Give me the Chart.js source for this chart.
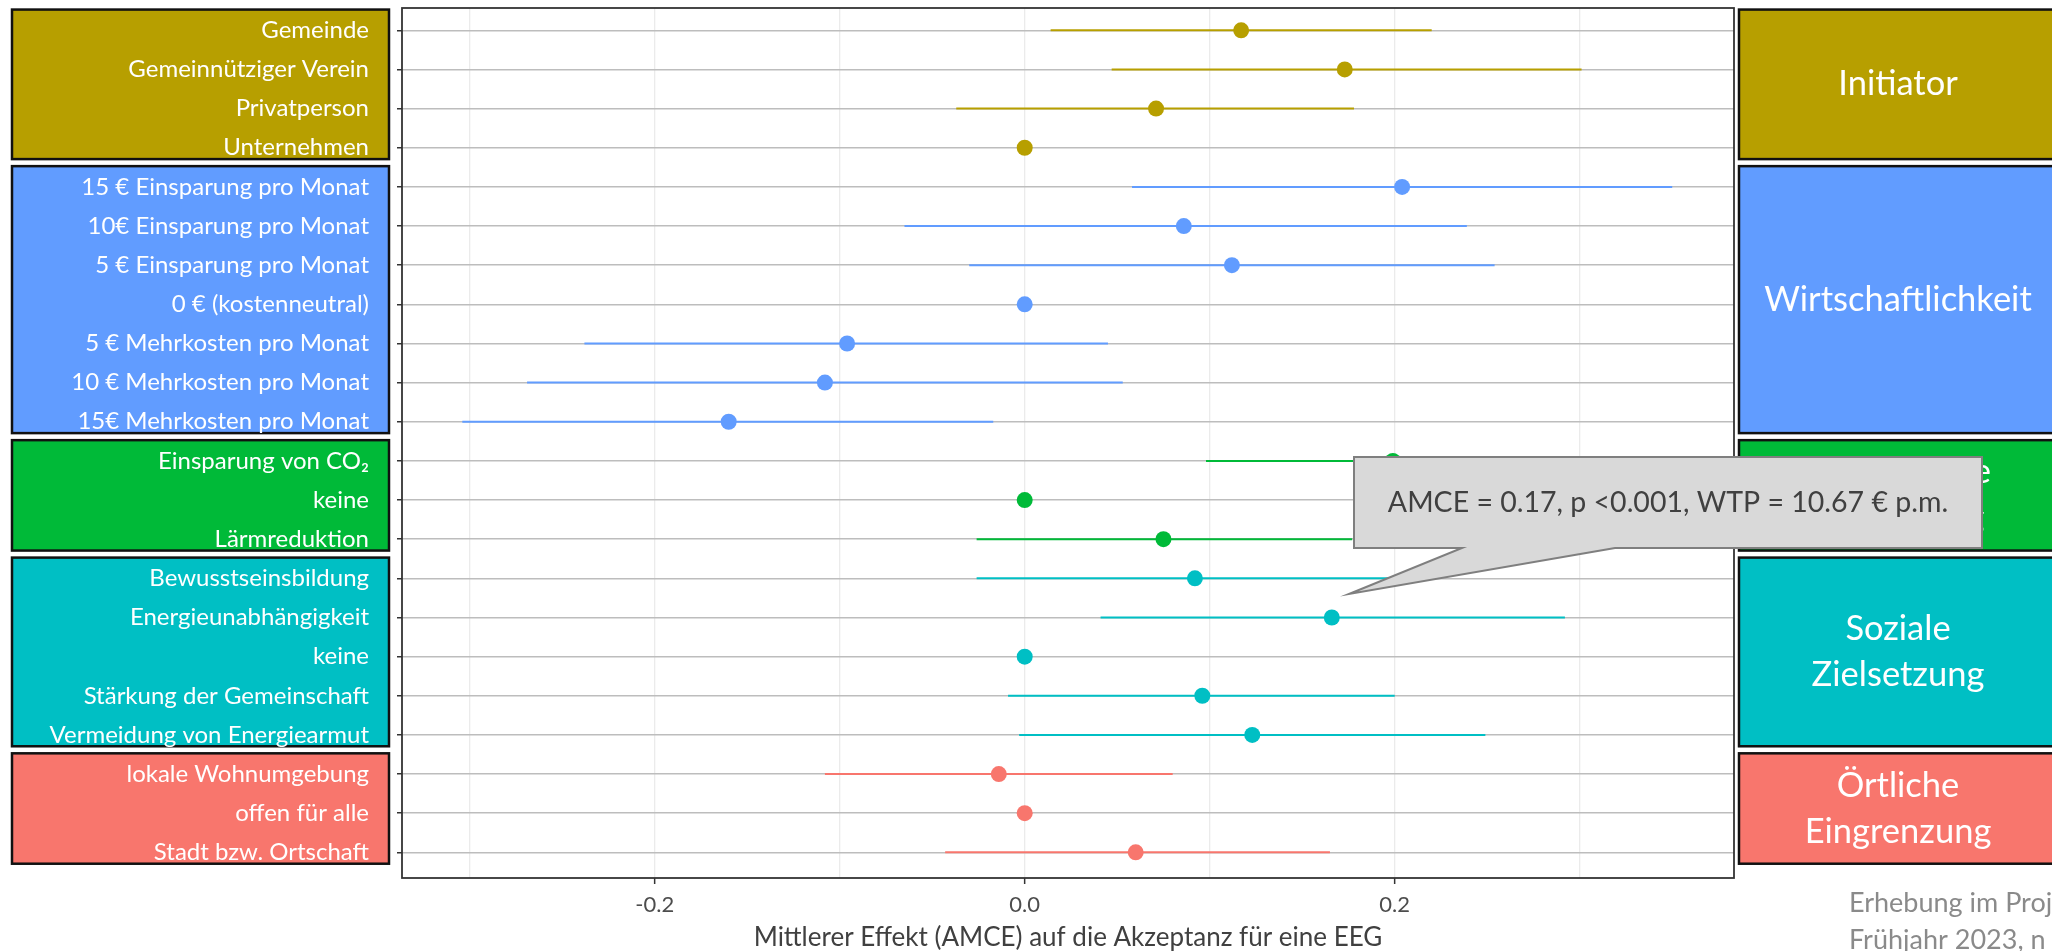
<!DOCTYPE html>
<html>
<head>
<meta charset="utf-8">
<script src="https://cdn.jsdelivr.net/npm/chart.js@4.4.1/dist/chart.umd.min.js"></script>
<style>
    html, body { margin: 0; padding: 0; background: #fff; }
    #wrap { width: 2052px; height: 951px; }
</style>
</head>
<body>
<div id="wrap"><canvas id="amceChart"></canvas></div>
<script>
// attribute levels, top to bottom
const levels = [
    "Gemeinde", "Gemeinnütziger Verein", "Privatperson", "Unternehmen",
    "15 € Einsparung pro Monat", "10€ Einsparung pro Monat", "5 € Einsparung pro Monat",
    "0 € (kostenneutral)", "5 € Mehrkosten pro Monat", "10 € Mehrkosten pro Monat", "15€ Mehrkosten pro Monat",
    "Einsparung von CO₂", "keine", "Lärmreduktion",
    "Bewusstseinsbildung", "Energieunabhängigkeit", "keine", "Stärkung der Gemeinschaft", "Vermeidung von Energiearmut",
    "lokale Wohnumgebung", "offen für alle", "Stadt bzw. Ortschaft"
];

const estimates = [0.117, 0.173, 0.071, 0, 0.204, 0.086, 0.112, 0, -0.096, -0.108, -0.160,
    0.199, 0, 0.075, 0.092, 0.166, 0, 0.096, 0.123, -0.014, 0, 0.060];
const lowerCI = [0.014, 0.047, -0.037, null, 0.058, -0.065, -0.030, null, -0.238, -0.269, -0.304,
    0.098, null, -0.026, -0.026, 0.041, null, -0.009, -0.003, -0.108, null, -0.043];
const upperCI = [0.220, 0.301, 0.178, null, 0.350, 0.239, 0.254, null, 0.045, 0.053, -0.017,
    0.300, null, 0.177, 0.209, 0.292, null, 0.200, 0.249, 0.080, null, 0.165];

const groupNames = [["Initiator"], ["Wirtschaftlichkeit"], ["Ökologische", "Zielsetzung"],
    ["Soziale", "Zielsetzung"], ["Örtliche", "Eingrenzung"]];
const groupSizes = [4, 7, 3, 5, 3];
const groupColors = ["#B79F00", "#619CFF", "#00BA38", "#00BFC4", "#F8766D"];

const xGridValues = [-0.3, -0.2, -0.1, 0, 0.1, 0.2, 0.3];
const xTickLabels = [-0.2, 0, 0.2];
const xTitle = "Mittlerer Effekt (AMCE) auf die Akzeptanz für eine EEG";
const calloutText = "AMCE = 0.17, p <0.001, WTP = 10.67 € p.m.";
const footnote = ["Erhebung im Projekt", "Frühjahr 2023, n ="];

const FONT = "Lato, 'Noto Sans', sans-serif";
const CALLOUT_TOP = 457;

// group index of every row
const groupOf = [];
groupSizes.forEach((n, g) => { for (let k = 0; k < n; k++) groupOf.push(g); });

function groupRows(g) {
    const first = groupOf.indexOf(g) + 1;
    return { first: first, last: first + groupSizes[g] - 1 };
}

/* datasets */

const datasets = [{
    type: "scatter",
    data: estimates.map((v, i) => ({ x: v, y: i + 1 })),
    backgroundColor: levels.map((_, i) => groupColors[groupOf[i]]),
    pointRadius: 8,
    pointBorderWidth: 0,
    order: 0
}];

levels.forEach((_, i) => {
    if (lowerCI[i] === null) return;
    datasets.push({
        type: "line",
        data: [{ x: lowerCI[i], y: i + 1 }, { x: upperCI[i], y: i + 1 }],
        borderColor: groupColors[groupOf[i]],
        borderWidth: 2,
        pointRadius: 0,
        order: 1
    });
});

/* boxes, panel border, callout */

const decor = {
    id: "decor",
    beforeDraw(chart) {
        const ctx = chart.ctx;
        const y = chart.scales.y;
        ctx.save();
        ctx.fillStyle = "#fff";
        ctx.fillRect(0, 0, chart.width, chart.height);

        groupSizes.forEach((_, g) => {
            const r = groupRows(g);
            const top = y.getPixelForValue(r.first - 0.53);
            const bottom = y.getPixelForValue(r.last + 0.29);
            ctx.fillStyle = groupColors[g];
            ctx.strokeStyle = "#111";
            ctx.lineWidth = 2.5;
            // left box behind tick labels
            ctx.fillRect(12, top, 377, bottom - top);
            ctx.strokeRect(12, top, 377, bottom - top);
            // right box
            ctx.fillRect(1739, top, 330, bottom - top);
            ctx.strokeRect(1739, top, 330, bottom - top);

            // group name; the box that the callout covers shows it only below the callout top
            const clipTop = (top < CALLOUT_TOP && bottom > CALLOUT_TOP) ? CALLOUT_TOP : top;
            ctx.save();
            ctx.beginPath();
            ctx.rect(1739, clipTop, 330, bottom - clipTop);
            ctx.clip();
            ctx.fillStyle = "#fff";
            ctx.font = "34.5px " + FONT;
            ctx.textAlign = "center";
            ctx.textBaseline = "middle";
            const lines = groupNames[g];
            const mid = (top + bottom) / 2;
            lines.forEach((t, k) => {
                ctx.fillText(t, 1898, mid + (k - (lines.length - 1) / 2) * 46);
            });
            ctx.restore();
        });
        ctx.restore();
    },
    afterDatasetsDraw(chart) {
        const a = chart.chartArea;
        const ctx = chart.ctx;
        ctx.save();
        ctx.strokeStyle = "#333";
        ctx.lineWidth = 1.8;
        ctx.strokeRect(a.left, a.top, a.right - a.left, a.bottom - a.top);
        ctx.restore();
    },
    afterDraw(chart) {
        const ctx = chart.ctx;
        ctx.save();
        // callout
        ctx.fillStyle = "#d9d9d9";
        ctx.strokeStyle = "#7f7f7f";
        ctx.lineWidth = 2;
        ctx.beginPath();
        ctx.moveTo(1354, CALLOUT_TOP);
        ctx.lineTo(1982, CALLOUT_TOP);
        ctx.lineTo(1982, 548);
        ctx.lineTo(1615, 548);
        ctx.lineTo(1349, 594);
        ctx.lineTo(1462, 548);
        ctx.lineTo(1354, 548);
        ctx.closePath();
        ctx.fill();
        ctx.stroke();
        ctx.fillStyle = "#404040";
        ctx.font = "28.5px " + FONT;
        ctx.textAlign = "center";
        ctx.textBaseline = "middle";
        ctx.fillText(calloutText, 1668, 503);

        // footnote
        ctx.fillStyle = "#8a8a8a";
        ctx.font = "27px " + FONT;
        ctx.textAlign = "left";
        ctx.fillText(footnote[0], 1849, 903);
        ctx.fillText(footnote[1], 1849, 940);
        ctx.restore();
    }
};

new Chart(document.getElementById("amceChart"), {
    data: { datasets: datasets },
    options: {
        responsive: true,
        maintainAspectRatio: false,
        animation: false,
        devicePixelRatio: 1,
        layout: { padding: { top: 6, right: 318, bottom: 0, left: 0 } },
        plugins: {
            legend: { display: false },
            tooltip: { enabled: false }
        },
        scales: {
            x: {
                type: "linear",
                min: -0.3366,
                max: 0.3834,
                afterBuildTicks: s => { s.ticks = xGridValues.map(v => ({ value: v })); },
                afterFit: s => { s.height = 73; s.paddingLeft = 0; s.paddingRight = 0; },
                ticks: {
                    autoSkip: false,
                    maxRotation: 0,
                    padding: 8,
                    color: "#4d4d4d",
                    font: { family: FONT, size: 22 },
                    callback: v => xTickLabels.some(t => Math.abs(t - v) < 1e-9) ? v.toFixed(1) : ""
                },
                grid: {
                    color: "#ebebeb",
                    lineWidth: 1.3,
                    tickLength: 6,
                    tickWidth: 1.5,
                    tickColor: c => xTickLabels.some(t => Math.abs(t - c.tick.value) < 1e-9) ? "#333" : "rgba(0,0,0,0)"
                },
                border: { display: false },
                title: {
                    display: true,
                    text: xTitle,
                    color: "#404040",
                    font: { family: FONT, size: 26, lineHeight: 1.0 },
                    padding: { top: 0, bottom: 0 }
                }
            },
            y: {
                type: "linear",
                reverse: true,
                min: 0.43,
                max: 22.655,
                afterBuildTicks: s => { s.ticks = levels.map((_, i) => ({ value: i + 1 })); },
                afterFit: s => { s.width = 402; s.paddingTop = 0; s.paddingBottom = 0; },
                ticks: {
                    autoSkip: false,
                    padding: 28,
                    color: "#fff",
                    font: { family: FONT, size: 24 },
                    callback: v => levels[v - 1]
                },
                grid: {
                    color: "#bdbdbd",
                    lineWidth: 1.5,
                    tickLength: 5,
                    tickWidth: 1.5,
                    tickColor: "#333"
                },
                border: { display: false }
            }
        }
    },
    plugins: [decor]
});
</script>
</body>
</html>
